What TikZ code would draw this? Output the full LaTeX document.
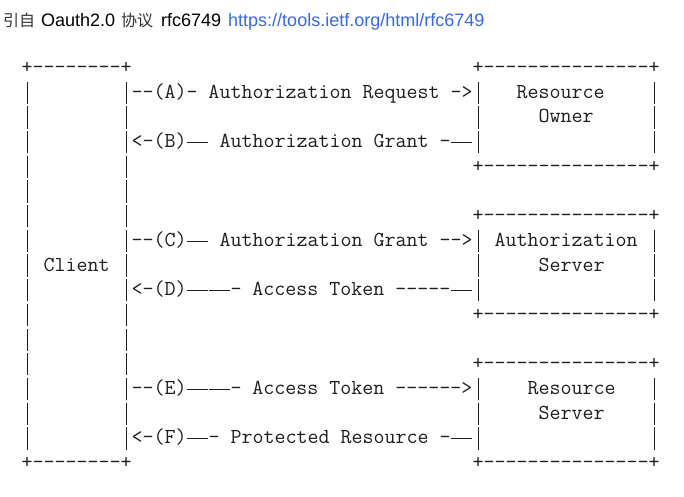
\documentclass[tikz,border=0pt]{standalone}
\usepackage{fontspec}
\setmainfont{Liberation Sans}
\newfontfamily\cjkfont{Noto Sans CJK SC}
\definecolor{linkblue}{RGB}{56,104,240}
\definecolor{inkgray}{RGB}{30,30,30}
% one column of the ASCII art = advance width of one monospace glyph
\newcommand\colw{\fontcharwd\font`M}
\newcommand\blankcols[1]{\hspace*{\dimexpr\colw*#1\relax}}
\newcommand\Ldash{\makebox[\dimexpr\colw*2\relax][c]{\rule[0.215em]{\dimexpr\colw*2-1.5pt\relax}{1pt}}}
\newcommand\vbar{\makebox[\colw][c]{\rule[-0.26em]{0.9pt}{1.04em}}}
\newcommand\asciirow[3]{\node[mono] (#1) at (21.5,{73.6+#2*24.69}) {#3};}
\tikzset{
  mono/.style={font=\ttfamily\fontsize{21.36}{24}\selectfont, text=inkgray,
    inner sep=0pt, outer sep=0pt, anchor=base west},
  hdr/.style={font=\fontsize{18}{20}\selectfont, inner sep=0pt, anchor=base west},
  hdrcjk/.style={font=\cjkfont\fontsize{16}{18}\selectfont, text=black!80,
    inner sep=0pt, anchor=base west}
}
\begin{document}
\begin{tikzpicture}[x=1pt,y=-1pt]
\useasboundingbox (0,0) rectangle (684,496);
\fill[white] (0,0) rectangle (684,496);
% header line
\node[hdrcjk] (h1) at (3,26) {引自};
\node[hdr] (h2) at (41,26) {Oauth2.0};
\node[hdrcjk] (h3) at (121,26) {协议};
\node[hdr] (h4) at (161,26) {rfc6749};
\node[hdr, text=linkblue] (h5) at (228,26) {https://tools.ietf.org/html/rfc6749};
% ASCII diagram, row by row
\asciirow{r0}{0}{+--------+\blankcols{31}+---------------+}
\asciirow{r1}{1}{\vbar\blankcols{8}\vbar--(A)- Authorization Request ->\vbar\blankcols{3}Resource\blankcols{4}\vbar}
\asciirow{r2}{2}{\vbar\blankcols{8}\vbar\blankcols{31}\vbar\blankcols{5}Owner\blankcols{5}\vbar}
\asciirow{r3}{3}{\vbar\blankcols{8}\vbar<-(B)\Ldash{} Authorization Grant -\Ldash\vbar\blankcols{15}\vbar}
\asciirow{r4}{4}{\vbar\blankcols{8}\vbar\blankcols{31}+---------------+}
\asciirow{r5}{5}{\vbar\blankcols{8}\vbar}
\asciirow{r6}{6}{\vbar\blankcols{8}\vbar\blankcols{31}+---------------+}
\asciirow{r7}{7}{\vbar\blankcols{8}\vbar--(C)\Ldash{} Authorization Grant -->\vbar\blankcols{1}Authorization\blankcols{1}\vbar}
\asciirow{r8}{8}{\vbar\blankcols{1}Client\blankcols{1}\vbar\blankcols{31}\vbar\blankcols{5}Server\blankcols{4}\vbar}
\asciirow{r9}{9}{\vbar\blankcols{8}\vbar<-(D)\Ldash\Ldash- Access Token -----\Ldash\vbar\blankcols{15}\vbar}
\asciirow{r10}{10}{\vbar\blankcols{8}\vbar\blankcols{31}+---------------+}
\asciirow{r11}{11}{\vbar\blankcols{8}\vbar}
\asciirow{r12}{12}{\vbar\blankcols{8}\vbar\blankcols{31}+---------------+}
\asciirow{r13}{13}{\vbar\blankcols{8}\vbar--(E)\Ldash\Ldash- Access Token ------>\vbar\blankcols{4}Resource\blankcols{3}\vbar}
\asciirow{r14}{14}{\vbar\blankcols{8}\vbar\blankcols{31}\vbar\blankcols{5}Server\blankcols{4}\vbar}
\asciirow{r15}{15}{\vbar\blankcols{8}\vbar<-(F)\Ldash- Protected Resource -\Ldash\vbar\blankcols{15}\vbar}
\asciirow{r16}{16}{+--------+\blankcols{31}+---------------+}
\end{tikzpicture}
\end{document}
